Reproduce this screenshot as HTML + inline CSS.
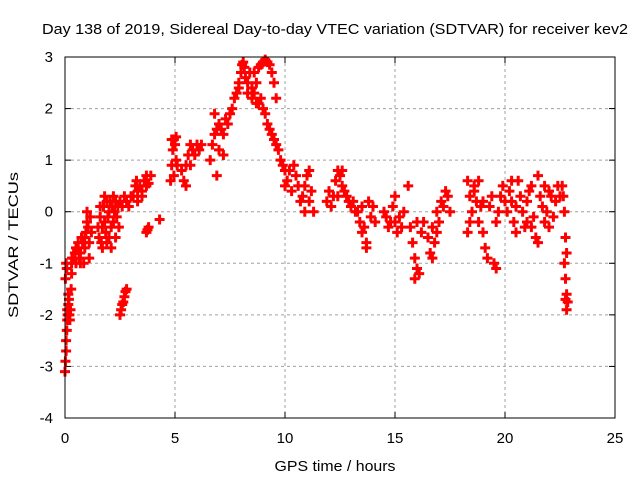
<!DOCTYPE html>
<html><head><meta charset="utf-8"><style>
body{margin:0;background:#fff;}
svg{display:block;font-family:"Liberation Sans",sans-serif;}
</style></head><body>
<svg id="chart" width="640" height="480">
<text x="335" y="34" text-anchor="middle" font-size="15" textLength="586" lengthAdjust="spacingAndGlyphs">Day 138 of 2019, Sidereal Day-to-day VTEC variation (SDTVAR) for receiver kev2</text>
<text x="0" y="0" transform="translate(18,245) rotate(-90)" text-anchor="middle" font-size="14" textLength="146" lengthAdjust="spacingAndGlyphs">SDTVAR / TECUs</text>
<text x="335" y="471" text-anchor="middle" font-size="15" textLength="121" lengthAdjust="spacingAndGlyphs">GPS time / hours</text>
<g id="grid"></g><g id="ticks"></g><g id="marks"></g>
<rect x="65" y="57" width="550" height="361" fill="none" stroke="#000" stroke-width="1"/>
</svg>
<script>
const xTicks=[0,5,10,15,20,25];
const yTicks=[-4,-3,-2,-1,0,1,2,3];
const hours=[0.0,0.02,0.05,0.05,0.08,0.1,0.1,0.12,0.15,0.15,0.18,0.2,0.22,0.25,0.28,0.3,0.02,0.05,0.08,0.3,0.32,
0.4,0.45,0.5,0.55,0.6,0.65,0.7,0.75,0.8,0.85,0.9,0.95,1.0,1.0,1.05,1.1,1.1,1.15,1.2,0.5,0.7,0.9,
1.5,1.55,1.6,1.65,1.7,1.75,1.8,1.85,1.9,1.95,2.0,2.05,2.1,2.15,2.2,2.25,2.3,2.35,2.4,2.45,1.6,1.7,1.8,1.9,2.0,2.1,2.2,2.3,
2.5,2.55,2.6,2.65,2.7,2.75,2.8,
2.5,2.6,2.7,2.8,2.9,3.0,
3.1,3.2,3.25,3.3,3.4,3.5,3.6,3.7,3.8,3.9,3.3,3.5,3.7,3.7,3.8,3.75,4.3,
4.8,4.85,4.9,4.95,5.0,5.05,5.1,4.85,4.95,5.05,
5.3,5.4,5.5,5.6,5.7,5.8,5.9,6.0,6.1,6.2,5.5,5.7,
6.6,6.7,6.8,6.9,7.0,7.1,7.2,7.3,7.4,7.5,6.8,7.0,6.9,7.2,
7.6,7.7,7.8,7.9,8.0,8.05,8.1,8.15,7.9,
8.2,8.3,8.4,8.5,8.6,8.7,8.8,8.9,9.0,9.1,9.2,9.3,9.4,9.5,9.6,9.7,9.8,9.9,10.0,8.3,8.5,8.7,
8.6,8.8,8.9,9.0,9.1,9.2,9.3,9.4,9.5,9.6,
10.0,10.1,10.2,10.3,10.5,10.6,10.7,10.8,10.9,11.0,11.1,11.2,11.3,10.4,10.9,11.1,
11.9,12.0,12.1,12.2,12.3,12.4,12.5,12.6,12.7,12.8,12.9,13.0,13.1,13.2,12.4,12.6,
13.3,13.4,13.5,13.6,13.7,13.8,13.9,14.0,14.1,13.5,13.7,
14.5,14.6,14.7,14.8,14.9,15.0,15.1,15.2,15.3,15.4,15.6,15.0,
15.7,15.8,15.9,16.0,16.1,16.2,16.3,15.9,16.0,
16.5,16.6,16.7,16.8,16.9,17.0,17.1,17.2,17.3,17.4,17.5,16.7,16.9,
18.3,18.4,18.5,18.6,18.7,18.8,18.9,19.0,19.1,19.2,19.3,19.4,18.4,18.6,18.8,19.0,18.3,
19.5,19.6,19.7,19.8,19.9,20.0,19.6,
20.1,20.2,20.3,20.4,20.5,20.6,20.7,20.8,20.9,21.0,21.1,21.2,21.3,21.4,21.5,21.6,21.7,21.8,21.9,22.0,22.1,22.2,22.3,22.4,22.5,20.5,21.0,21.5,22.0,20.3,21.2,21.8,
22.6,22.65,22.7,22.75,22.8,22.7,22.75,22.8,22.85,22.8,22.75];
const sdtvar=[-3.1,-2.9,-2.7,-2.5,-2.3,-2.1,-1.9,-2.0,-1.8,-1.6,-1.7,-2.0,-2.1,-1.9,-1.5,-1.2,-1.3,-1.0,-1.1,-1.0,-0.9,
-0.9,-0.8,-0.7,-0.75,-0.6,-0.9,-0.8,-0.5,-0.6,-1.0,-0.7,-0.4,-0.2,0.0,-0.3,-0.6,-0.9,-0.1,-0.4,-1.0,-1.0,-0.5,
-0.3,-0.5,-0.1,-0.6,-0.3,0.1,-0.2,-0.4,0.2,-0.1,0.0,0.2,-0.3,0.1,0.3,0.0,0.2,-0.1,0.1,-0.3,0.1,-0.7,0.3,-0.6,-0.5,-0.7,-0.2,-0.5,
-2.0,-1.9,-1.8,-1.75,-1.65,-1.55,-1.5,
0.2,0.1,0.3,0.2,0.1,0.3,
0.3,0.5,0.6,0.4,0.5,0.4,0.6,0.7,0.55,0.7,0.2,0.3,0.5,-0.4,-0.3,-0.35,-0.15,
0.6,0.9,1.2,1.4,1.3,1.45,0.9,1.4,0.7,1.0,
0.8,0.6,0.9,1.1,1.3,1.2,1.1,1.3,1.2,1.3,0.5,0.9,
1.0,1.3,1.5,1.6,1.7,1.6,1.5,1.8,1.7,1.9,1.9,1.2,0.7,1.1,
2.0,2.2,2.3,2.5,2.7,2.85,2.9,2.8,2.4,
2.6,2.5,2.7,2.4,2.3,2.5,2.1,2.2,2.0,1.9,1.7,1.6,1.5,1.4,1.3,1.2,1.0,0.9,0.8,2.3,2.2,2.1,
2.7,2.8,2.85,2.9,2.95,2.9,2.85,2.7,2.5,2.2,
0.5,0.6,0.8,0.4,0.7,0.5,0.2,0.3,0.5,0.7,0.8,0.4,0.0,0.9,0.0,0.2,
0.2,0.4,0.1,0.3,0.6,0.8,0.7,0.5,0.4,0.3,0.2,0.1,0.2,0.0,0.3,0.8,
0.0,-0.2,0.1,-0.3,-0.6,0.2,-0.1,0.1,-0.2,-0.4,-0.7,
0.0,-0.1,-0.3,-0.2,0.1,-0.2,-0.4,-0.1,-0.3,0.0,0.5,0.3,
-0.3,-0.6,-0.9,-1.1,-1.2,-0.4,-0.2,-1.3,-0.2,
-0.5,-0.8,-0.3,-0.6,0.0,-0.2,0.2,0.1,0.4,0.3,0.0,-0.9,-0.4,
0.6,0.3,0.0,0.5,0.2,-0.2,0.1,-0.4,-0.7,-0.9,0.1,0.3,-0.2,0.4,0.6,0.2,-0.4,
-1.0,-1.1,0.0,0.3,0.5,0.2,-0.2,
0.0,0.4,0.2,-0.2,0.1,0.6,0.3,0.0,-0.3,0.2,0.4,0.5,-0.1,-0.5,-0.6,0.3,0.1,-0.2,0.0,0.4,0.3,-0.1,0.2,0.5,0.3,-0.4,-0.2,0.7,-0.3,0.6,-0.3,0.5,
0.5,0.3,0.0,-0.5,-0.8,-1.0,-1.3,-1.6,-1.75,-1.9,-1.7];

const NS="http://www.w3.org/2000/svg";
const X0=65,X1=615,Y0=418,Y1=57;
function xs(t){return X0+(t-0)/(25-0)*(X1-X0);}
function ys(v){return Y0-(v+4)/(3+4)*(Y0-Y1);}
function mk(tag,attrs,parent){const e=document.createElementNS(NS,tag);for(const k in attrs)e.setAttribute(k,attrs[k]);parent.appendChild(e);return e;}
const grid=document.getElementById('grid'),ticks=document.getElementById('ticks'),marks=document.getElementById('marks');
xTicks.forEach(t=>{
  const x=xs(t);
  if(t>0&&t<25){const g=mk('line',{x1:x,x2:x,y1:Y1,y2:Y0,stroke:'#a0a0a0','stroke-dasharray':'3,3'},grid);
  
  }
  mk('line',{x1:x,x2:x,y1:Y0,y2:Y0-6,stroke:'#000'},ticks);
  mk('line',{x1:x,x2:x,y1:Y1,y2:Y1+6,stroke:'#000'},ticks);
  const l=mk('text',{x:x,y:443,'text-anchor':'middle','font-size':'15'},ticks);l.textContent=t;
  
  
});
yTicks.forEach(v=>{
  const y=ys(v);
  if(v>-4&&v<3){const g=mk('line',{x1:X0,x2:X1,y1:y,y2:y,stroke:'#a0a0a0','stroke-dasharray':'3,3'},grid);
  
  }
  mk('line',{x1:X0,x2:X0+6,y1:y,y2:y,stroke:'#000'},ticks);
  mk('line',{x1:X1,x2:X1-6,y1:y,y2:y,stroke:'#000'},ticks);
  const l=mk('text',{x:53,y:y+5,'text-anchor':'end','font-size':'15'},ticks);l.textContent=v;
  
  
});
for(let i=0;i<hours.length;i++){
  const x=xs(hours[i]),y=ys(sdtvar[i]);
  const p=mk('path',{d:`M${x-5},${y}H${x+5}M${x},${y-5}V${y+5}`,stroke:'#ff0000','stroke-width':'3',fill:'none'},marks);
  
  
}
</script>
</body></html>
